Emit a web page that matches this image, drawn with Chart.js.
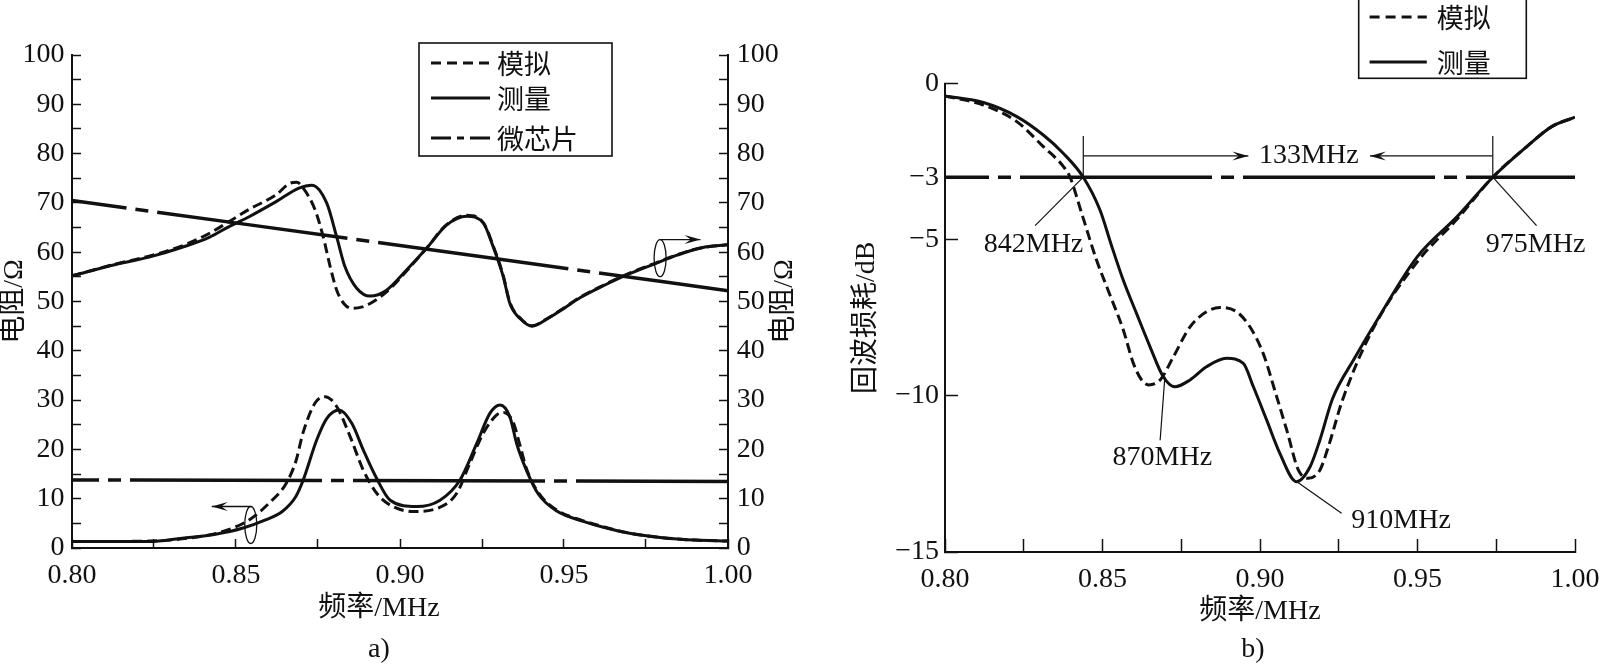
<!DOCTYPE html>
<html>
<head>
<meta charset="utf-8">
<script src="https://cdn.jsdelivr.net/npm/chart.js@4.4.1/dist/chart.umd.min.js"></script>
<style>
    body { margin: 0; background: #fff; width: 1600px; height: 664px; overflow: hidden; position: relative; }
    .box { position: absolute; top: 0; height: 664px; }
    #boxA { left: 0; width: 810px; }
    #boxB { left: 820px; width: 780px; }
</style>
</head>
<body>
<div class="box" id="boxA"><canvas id="chartA" width="810" height="664"></canvas></div>
<div class="box" id="boxB"><canvas id="chartB" width="780" height="664"></canvas></div>
<script>
const SERIF = "'Liberation Serif', 'Noto Sans CJK SC', serif";
const INK = '#111';

// --- a) 电阻 ---
const freqUpMeas = [0.800, 0.8133, 0.8235, 0.8336, 0.8418, 0.8479, 0.854, 0.8621, 0.8692, 0.8731, 0.8777, 0.8807, 0.8832, 0.8868, 0.8909, 0.8959, 0.902, 0.9081, 0.9142, 0.9203, 0.9254, 0.9284, 0.9315, 0.9335, 0.937, 0.9403, 0.945, 0.95, 0.955, 0.962, 0.9698, 0.9775, 0.9845, 0.992, 1.0];
const resUpMeas = [55.2, 57.5, 59.0, 61.0, 63.0, 65.2, 67.2, 70.2, 73.0, 73.6, 69.9, 63.1, 57.1, 52.7, 51.1, 52.3, 56.4, 60.8, 65.5, 67.3, 65.9, 61.1, 55.0, 49.6, 46.3, 45.0, 46.5, 48.6, 50.8, 53.2, 55.6, 57.6, 59.4, 60.9, 61.5];
const freqUpSim = [0.800, 0.8133, 0.8235, 0.8336, 0.8418, 0.8479, 0.854, 0.8621, 0.8665, 0.8685, 0.8705, 0.8741, 0.8766, 0.8787, 0.8807, 0.883, 0.8853, 0.8885, 0.8909, 0.896, 0.902, 0.9081, 0.9142, 0.9203, 0.9254, 0.9284, 0.9315, 0.9335, 0.937, 0.9403, 0.945, 0.95, 0.955, 0.962, 0.9698, 0.9775, 0.9845, 0.992, 1.0];
const resUpSim = [55.2, 57.6, 59.2, 61.3, 63.8, 66.2, 68.7, 71.6, 74.0, 74.2, 73.0, 68.6, 63.1, 57.1, 52.3, 49.5, 48.6, 48.9, 49.6, 52.0, 56.2, 60.8, 65.6, 67.5, 66.0, 61.3, 55.2, 49.8, 46.4, 45.1, 46.6, 48.7, 50.9, 53.3, 55.7, 57.7, 59.5, 60.9, 61.5];
const freqLowMeas = [0.800, 0.8235, 0.8336, 0.8438, 0.8519, 0.859, 0.8641, 0.8682, 0.8705, 0.8746, 0.8777, 0.8815, 0.8853, 0.8888, 0.8929, 0.897, 0.9051, 0.9122, 0.9183, 0.9234, 0.9274, 0.9305, 0.9335, 0.9356, 0.9386, 0.9422, 0.9478, 0.9559, 0.962, 0.97, 0.98, 0.99, 1.0];
const resLowMeas = [1.3, 1.3, 2.0, 2.8, 4.0, 5.7, 7.4, 10.4, 13.8, 21.9, 26.3, 28.0, 25.3, 19.9, 14.1, 9.7, 8.4, 9.7, 13.8, 21.2, 27.3, 29.0, 26.6, 21.1, 15.7, 10.9, 7.5, 5.4, 4.2, 3.0, 2.1, 1.6, 1.4];
const freqLowSim = [0.800, 0.8235, 0.8387, 0.8458, 0.854, 0.8601, 0.8652, 0.8682, 0.8705, 0.8741, 0.8771, 0.8807, 0.8848, 0.8888, 0.8929, 0.897, 0.9041, 0.9112, 0.9173, 0.9213, 0.9254, 0.9295, 0.9315, 0.9345, 0.9365, 0.9386, 0.9422, 0.9478, 0.9559, 0.962, 0.97, 0.98, 0.99, 1.0];
const resLowSim = [1.3, 1.4, 2.3, 3.3, 5.7, 9.1, 13.0, 17.5, 23.5, 29.4, 30.7, 28.7, 22.6, 15.8, 11.1, 8.7, 7.4, 8.0, 11.1, 17.2, 23.3, 27.0, 27.5, 25.5, 21.0, 16.0, 11.2, 7.7, 5.5, 4.3, 3.0, 2.1, 1.6, 1.4];
const freqChip = [0.80, 1.00];
const resChipUp = [70.5, 52.2];
const resChipLow = [13.8, 13.5];

const tickFreq = [0.80, 0.825, 0.85, 0.875, 0.90, 0.925, 0.95, 0.975, 1.00];
const tickFreqLabels = ['0.80', '', '0.85', '', '0.90', '', '0.95', '', '1.00'];
const tickRes = [0, 5, 10, 15, 20, 25, 30, 35, 40, 45, 50, 55, 60, 65, 70, 75, 80, 85, 90, 95, 100];

// 椭圆 + 箭头 (指示坐标轴)
const loopFreq = [0.8545, 0.9793];
const loopRes = [4.67, 58.8];
const loopArrowTo = [0.8426, 0.9916];

// --- b) 回波损耗 ---
const freqRlMeas = [0.800, 0.8122, 0.8228, 0.8312, 0.8376, 0.8439, 0.8492, 0.8529, 0.8566, 0.8608, 0.8651, 0.8693, 0.873, 0.8778, 0.883, 0.8894, 0.8947, 0.8979, 0.9021, 0.9063, 0.9116, 0.9159, 0.919, 0.923, 0.93, 0.9372, 0.9499, 0.9625, 0.9739, 0.9847, 0.9926, 1.0];
const rlMeas = [-0.40, -0.61, -1.06, -1.65, -2.24, -3.0, -4.05, -5.2, -6.3, -7.36, -8.43, -9.39, -9.71, -9.49, -9.07, -8.80, -8.96, -9.71, -10.77, -11.84, -12.75, -12.27, -11.42, -10.1, -8.8, -7.57, -5.55, -4.27, -3.0, -2.02, -1.38, -1.08];
const freqRlSim = [0.800, 0.8122, 0.8228, 0.8312, 0.8376, 0.8397, 0.8434, 0.8481, 0.8519, 0.8566, 0.8598, 0.8624, 0.8646, 0.8683, 0.8725, 0.8778, 0.883, 0.8873, 0.8926, 0.8968, 0.901, 0.9053, 0.9085, 0.9122, 0.9153, 0.919, 0.9217, 0.9262, 0.9357, 0.95, 0.9625, 0.9739, 0.9847, 0.9926, 1.0];
const rlSim = [-0.40, -0.69, -1.22, -2.02, -2.66, -3.0, -4.16, -5.65, -6.65, -7.89, -8.96, -9.49, -9.65, -9.49, -8.75, -7.79, -7.31, -7.17, -7.31, -7.79, -8.64, -10.03, -11.1, -12.38, -12.64, -12.38, -11.63, -10.13, -7.89, -5.7, -4.35, -3.0, -2.02, -1.38, -1.08];
const freqRef = [0.80, 1.00];
const rlRef = [-3, -3];
const tickRl = [0, -3, -5, -10, -15];

// 带宽标注
const bwEdgeFreq = [0.8439, 0.9739];
const bwEdgeTop = -1.68;
const bwArrowLevel = -2.32;
const bwArrowTip = [0.8963, 0.9349];
const bwText = '133MHz';
const bwTextFreq = 0.9155;
const noteText = ['842MHz', '975MHz', '870MHz', '910MHz'];
const noteFreq = [0.8281, 0.9875, 0.869, 0.9448];
const noteLevel = [-5.17, -5.17, -11.99, -13.98];
const leadFrom = [[0.8439, -3], [0.9739, -3], [0.8698, -9.39], [0.9117, -12.75]];
const leadTo = [[0.8286, -4.55], [0.9878, -4.55], [0.8683, -11.42], [0.9259, -13.76]];

const DASH = [10, 5];
const DASHDOT = [192, 9, 13, 9];
const SHIFT = '\u2002\u2002\u2002';   // trailing space: moves centred caption left like the figure

function pts(xs, ys) { return xs.map((x, i) => ({ x: x, y: ys[i] })); }

function line(label, xs, ys, axis, dash, extra) {
    return Object.assign({
        label: label, data: pts(xs, ys), yAxisID: axis,
        borderColor: INK, borderWidth: 3, borderDash: dash,
        pointRadius: 0, fill: false, cubicInterpolationMode: 'monotone'
    }, extra || {});
}

function arrow(ctx, x1, y1, x2, y2) {
    ctx.beginPath(); ctx.moveTo(x1, y1); ctx.lineTo(x2, y2); ctx.stroke();
    const a = Math.atan2(y2 - y1, x2 - x1), L = 16, W = 4.5;
    const c = Math.cos(a), s = Math.sin(a);
    ctx.beginPath();
    ctx.moveTo(x2, y2);
    ctx.lineTo(x2 - L * c + W * s, y2 - L * s - W * c);
    ctx.lineTo(x2 - 0.6 * L * c, y2 - 0.6 * L * s);
    ctx.lineTo(x2 - L * c - W * s, y2 - L * s + W * c);
    ctx.closePath(); ctx.fill();
}

// legend box drawn like the figure (box with line samples)
function drawLegend(chart, o) {
    const ctx = chart.ctx, seen = [];
    chart.data.datasets.forEach(d => { if (d.legendDash && !seen.find(s => s.label === d.label)) seen.push(d); });
    ctx.save();
    ctx.strokeStyle = INK; ctx.lineWidth = 1.6;
    ctx.strokeRect(o.x, o.y, o.w, o.h);
    ctx.fillStyle = INK;
    ctx.font = '27px "Noto Sans CJK SC"';
    ctx.textBaseline = 'middle';
    seen.forEach((d, i) => {
        const y = o.rows[i];
        ctx.lineWidth = 3; ctx.setLineDash(d.legendDash);
        ctx.beginPath(); ctx.moveTo(o.lx1, y); ctx.lineTo(o.lx2, y); ctx.stroke();
        ctx.setLineDash([]);
        ctx.fillText(d.label, o.tx, y + 1);
    });
    ctx.restore();
}

const tickFont = { family: SERIF, size: 28 };

function xScale(tl, pad, h, titlePad, titleText) {
    return {
        type: 'linear', min: 0.8, max: 1.0,
        afterBuildTicks: s => { s.ticks = tickFreq.map(v => ({ value: v })); },
        ticks: { autoSkip: false, maxRotation: 0, padding: pad, color: INK, font: tickFont,
                 callback: (v, i) => tickFreqLabels[i] },
        grid: { drawOnChartArea: false, tickLength: tl, tickWidth: 1.5, tickColor: INK },
        border: { color: INK, width: 2 },
        title: { display: true, text: titleText, color: INK, font: { family: SERIF, size: 28, lineHeight: 1.2 },
                 padding: { top: 0, bottom: titlePad } },
        afterFit: s => { s.height = h; s.paddingLeft = 0; s.paddingRight = 0; }
    };
}

function resScale(pos, pad, w, showTitle) {
    return {
        type: 'linear', position: pos, min: 0, max: 100,
        afterBuildTicks: s => { s.ticks = tickRes.map(v => ({ value: v })); },
        ticks: { autoSkip: false, padding: pad, color: INK, font: tickFont,
                 callback: v => (v % 10 === 0 ? String(v) : '') },
        grid: { drawOnChartArea: false, tickLength: -9, tickWidth: 1.5, tickColor: INK },
        border: { color: INK, width: 2 },
        title: { display: showTitle, text: '电阻/Ω', color: INK, font: { family: SERIF, size: 28, lineHeight: 1 },
                 padding: { top: 1, bottom: 0 } },
        afterFit: s => { s.width = w; s.paddingTop = 0; s.paddingBottom = 0; }
    };
}

const annotA = {
    id: 'annotA',
    afterDraw(chart, args, opts) {
        const ctx = chart.ctx, sx = chart.scales.x;
        ctx.save();
        ctx.strokeStyle = INK; ctx.fillStyle = INK; ctx.lineWidth = 1.3;
        loopFreq.forEach((f, i) => {
            const cx = sx.getPixelForValue(f), cy = chart.scales.y.getPixelForValue(loopRes[i]);
            ctx.beginPath(); ctx.ellipse(cx, cy, 6, 18.5, 0, 0, Math.PI * 2); ctx.stroke();
            arrow(ctx, cx, cy - 18.5, sx.getPixelForValue(loopArrowTo[i]), cy - 18.5);
        });
        // 右侧纵轴标题
        ctx.translate(opts.rightTitleX, (chart.chartArea.top + chart.chartArea.bottom) / 2);
        ctx.rotate(-Math.PI / 2);
        ctx.font = '28px ' + SERIF; ctx.textAlign = 'center'; ctx.textBaseline = 'middle';
        ctx.fillText('电阻/Ω', 0, 0);
        ctx.restore();
        drawLegend(chart, opts.legend);
    }
};

const annotB = {
    id: 'annotB',
    afterDraw(chart, args, opts) {
        const ctx = chart.ctx, sx = chart.scales.x, sy = chart.scales.y;
        const X = v => sx.getPixelForValue(v), Y = v => sy.getPixelForValue(v);
        ctx.save();
        ctx.strokeStyle = INK; ctx.fillStyle = INK; ctx.lineWidth = 1.2;
        bwEdgeFreq.forEach((f, i) => {
            ctx.beginPath(); ctx.moveTo(X(f), Y(-3)); ctx.lineTo(X(f), Y(bwEdgeTop)); ctx.stroke();
            arrow(ctx, X(f), Y(bwArrowLevel), X(bwArrowTip[i]), Y(bwArrowLevel));
        });
        leadFrom.forEach((p, i) => {
            ctx.beginPath(); ctx.moveTo(X(p[0]), Y(p[1])); ctx.lineTo(X(leadTo[i][0]), Y(leadTo[i][1])); ctx.stroke();
        });
        ctx.font = '28px ' + SERIF; ctx.textAlign = 'center'; ctx.textBaseline = 'middle';
        ctx.fillText(bwText, X(bwTextFreq), Y(bwArrowLevel));
        noteText.forEach((t, i) => ctx.fillText(t, X(noteFreq[i]), Y(noteLevel[i])));
        ctx.restore();
        drawLegend(chart, opts.legend);
    }
};

Chart.defaults.font.family = SERIF;
Chart.defaults.color = INK;

new Chart(document.getElementById('chartA'), {
    type: 'line',
    data: {
        datasets: [
            line('模拟', freqUpSim, resUpSim, 'y2', DASH, { legendDash: [10, 6] }),
            line('测量', freqUpMeas, resUpMeas, 'y2', [], { legendDash: [] }),
            line('微芯片', freqChip, resChipUp, 'y2', DASHDOT, { borderWidth: 3.5, borderDashOffset: 137, tension: 0, legendDash: [20, 6, 7, 6] }),
            line('模拟', freqLowSim, resLowSim, 'y', DASH),
            line('测量', freqLowMeas, resLowMeas, 'y', []),
            line('微芯片', freqChip, resChipLow, 'y', DASHDOT, { borderWidth: 3.5, borderDashOffset: 165, tension: 0 })
        ]
    },
    options: {
        responsive: false, animation: false, devicePixelRatio: 1,
        layout: { padding: { top: 55, left: 0, right: 0, bottom: 0 } },
        scales: {
            x: xScale(-9, 20, 88, 11, '频率/MHz' + SHIFT),
            y: resScale('left', 16.5, 72, true),
            y2: resScale('right', 17.7, 82, false)
        },
        plugins: {
            legend: { display: false },
            tooltip: { enabled: false },
            title: { display: true, text: 'a)' + SHIFT, position: 'bottom', fullSize: false, color: INK,
                     font: { family: SERIF, size: 28, lineHeight: 1, weight: 'normal' }, padding: 0 },
            annotA: {
                rightTitleX: 785,
                legend: { x: 419, y: 43, w: 193, h: 113, lx1: 431, lx2: 490, tx: 497, rows: [63, 98, 138] }
            }
        }
    },
    plugins: [annotA]
});

new Chart(document.getElementById('chartB'), {
    type: 'line',
    data: {
        datasets: [
            line('模拟', freqRlSim, rlSim, 'y', DASH, { legendDash: [10, 6] }),
            line('测量', freqRlMeas, rlMeas, 'y', [], { legendDash: [] }),
            line('-3dB', freqRef, rlRef, 'y', DASHDOT, { borderWidth: 3.5, borderDashOffset: 148, tension: 0 })
        ]
    },
    options: {
        responsive: false, animation: false, devicePixelRatio: 1,
        layout: { padding: { top: 83.5, left: 0, right: 25, bottom: 0 } },
        scales: {
            x: xScale(-13, 24.2, 84, 7.2, '频率/MHz'),
            y: {
                type: 'linear', position: 'left', min: -15, max: 0,
                afterBuildTicks: s => { s.ticks = tickRl.map(v => ({ value: v })); },
                ticks: { autoSkip: false, padding: 19, color: INK, font: tickFont,
                         callback: v => (v < 0 ? '\u2212' + Math.abs(v) : String(v)) },
                grid: { drawOnChartArea: false, tickLength: -13, tickWidth: 1.5, tickColor: INK },
                border: { color: INK, width: 2 },
                title: { display: true, text: '回波损耗/dB', color: INK, font: { family: SERIF, size: 28, lineHeight: 1 },
                         padding: { top: 33, bottom: 0 } },
                afterFit: s => { s.width = 125; s.paddingTop = 0; s.paddingBottom = 0; }
            }
        },
        plugins: {
            legend: { display: false },
            tooltip: { enabled: false },
            title: { display: true, text: 'b)\u2002', position: 'bottom', fullSize: false, color: INK,
                     font: { family: SERIF, size: 28, lineHeight: 1, weight: 'normal' }, padding: 0 },
            annotB: {
                legend: { x: 538.7, y: -2, w: 167.6, h: 80.3, lx1: 549.6, lx2: 606.8, tx: 616.8, rows: [17, 62] }
            }
        }
    },
    plugins: [annotB]
});
</script>
</body>
</html>
